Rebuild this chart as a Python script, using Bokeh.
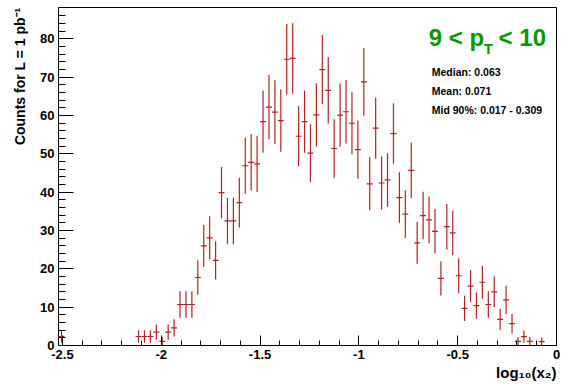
import math
import numpy as np
from bokeh.plotting import figure
from bokeh.models import Range1d, FixedTicker, Label, Title, ColumnDataSource, CustomJSTickFormatter
from bokeh.embed import file_html
from bokeh.resources import INLINE

# ---- data ----
bin_width = 0.03
centers = [-2.505,
           -2.115, -2.085, -2.055, -2.025, -1.995, -1.965, -1.935, -1.905, -1.875, -1.845,
           -1.815, -1.785, -1.755, -1.725, -1.695, -1.665, -1.635, -1.605, -1.575, -1.545,
           -1.515, -1.485, -1.455, -1.425, -1.395, -1.365, -1.335, -1.305, -1.275, -1.245,
           -1.215, -1.185, -1.155, -1.125, -1.095, -1.065, -1.035, -1.005, -0.975, -0.945,
           -0.915, -0.885, -0.855, -0.825, -0.795, -0.765, -0.735, -0.705, -0.675, -0.645,
           -0.615, -0.585, -0.555, -0.525, -0.495, -0.465, -0.435, -0.405, -0.375, -0.345,
           -0.315, -0.285, -0.255, -0.225, -0.195, -0.165, -0.135, -0.075]
counts = [2.3,
          2.35, 2.35, 2.35, 3.5, 1.1, 3.5, 4.6, 10.7, 10.7, 10.7,
          17.75, 26.0, 28.1, 22.2, 39.9, 32.5, 32.5, 37.3, 46.9, 47.8,
          47.4, 58.4, 62.2, 60.9, 58.7, 74.7, 74.9, 54.6, 58.4, 50.2,
          60.2, 72.0, 66.6, 51.4, 60.1, 61.0, 58.0, 51.1, 68.8, 42.2,
          56.7, 42.4, 43.2, 55.3, 38.6, 34.3, 45.7, 26.8, 33.9, 32.8,
          29.8, 17.5, 31.0, 29.4, 18.2, 9.7, 15.5, 10.4, 16.5, 10.7,
          14.0, 6.8, 11.9, 5.7, 1.1, 2.3, 1.1, 1.0]
errors = [1.61,
          1.63, 1.63, 1.63, 1.99, 1.12, 1.99, 2.28, 3.48, 3.48, 3.48,
          4.48, 5.42, 5.63, 5.01, 6.71, 6.06, 6.06, 6.49, 7.28, 7.35,
          7.32, 8.12, 8.38, 8.29, 8.14, 9.19, 9.20, 7.85, 8.12, 7.53,
          8.25, 9.02, 8.68, 7.62, 8.24, 8.30, 8.10, 7.60, 8.82, 6.91,
          8.00, 6.92, 6.99, 7.90, 6.60, 6.23, 7.19, 5.50, 6.19, 6.09,
          5.80, 4.45, 5.92, 5.76, 4.54, 3.31, 4.18, 3.43, 4.32, 3.48,
          3.98, 2.77, 3.67, 2.54, 1.12, 1.61, 1.12, 1.06]

x_ticks = [-2.5, -2.0, -1.5, -1.0, -0.5, 0.0]
x_tick_labels = ["-2.5", "-2", "-1.5", "-1", "-0.5", "0"]
y_ticks = [0, 10, 20, 30, 40, 50, 60, 70, 80]

title_parts = ["9 < p", "T", "< 10"]
stats_lines = ["Median: 0.063", "Mean: 0.071", "Mid 90%: 0.017 - 0.309"]
y_title = "Counts for L = 1 pb\u207b\u00b9"
x_title = "log\u2081\u2080(x\u2082)"

# ---- layout ----
W, H = 567, 384
FL, FR, FT, FB = 57, 556, 7, 345
XMIN, XMAX = -2.52, 0.0
YMIN, YMAX = 0.0, 88.2
RED = "#b22222"
GREEN = "#009900"
FONT = "Liberation Sans"


def dx(px):
    return XMIN + (px - FL) * (XMAX - XMIN) / (FR - FL)


def dy(py):
    return YMIN + (FB - py) * (YMAX - YMIN) / (FB - FT)


p = figure(width=W, height=H, output_backend="svg", toolbar_location=None,
           x_range=Range1d(XMIN, XMAX), y_range=Range1d(YMIN, YMAX),
           min_border_left=FL, min_border_right=W - FR, min_border_top=FT,
           min_border_bottom=H - FB)
p.grid.visible = False
p.background_fill_color = "white"
p.border_fill_color = "white"
p.outline_line_color = "black"
p.outline_line_width = 1

hw = bin_width / 2.0
src = ColumnDataSource(dict(
    x=centers, y=counts,
    lo=[c - e for c, e in zip(counts, errors)],
    hi=[c + e for c, e in zip(counts, errors)],
    xl=[c - hw for c in centers], xr=[c + hw for c in centers]))
p.segment(x0="x", y0="lo", x1="x", y1="hi", source=src, line_color=RED, line_width=1.2)
p.segment(x0="xl", y0="y", x1="xr", y1="y", source=src, line_color=RED, line_width=1.2)

# axes
xa = p.xaxis[0]
xa.ticker = FixedTicker(ticks=x_ticks, minor_ticks=[round(-2.5 + 0.1 * i, 2) for i in range(26)])
xa.formatter = CustomJSTickFormatter(args=dict(tv=x_ticks, tl=x_tick_labels),
                                     code="for (let i = 0; i < tv.length; i++) { if (Math.abs(tv[i] - tick) < 1e-9) return tl[i]; } return String(tick);")
xa.major_tick_in = 10
xa.major_tick_out = 0
xa.minor_tick_in = 5
xa.minor_tick_out = 0
xa.major_label_standoff = 4

ya = p.yaxis[0]
ya.ticker = FixedTicker(ticks=y_ticks, minor_ticks=list(range(0, 88, 2)))
ya.major_tick_in = 15
ya.major_tick_out = 0
ya.minor_tick_in = 7
ya.minor_tick_out = 0
ya.major_label_standoff = 4

for ax in (xa, ya):
    ax.axis_line_color = None
    ax.major_tick_line_color = "black"
    ax.minor_tick_line_color = "black"
    ax.major_label_text_font = FONT
    ax.major_label_text_font_style = "bold"
    ax.major_label_text_font_size = "13px"
    ax.major_label_text_color = "black"

# axis titles as side-panel titles (aligned at the axis end, like ROOT)
p.add_layout(Title(text=x_title, align="right", text_font=FONT, text_font_style="bold",
                   text_font_size="15px", text_color="black", standoff=0), "below")
p.add_layout(Title(text=y_title, align="right", text_font=FONT, text_font_style="bold",
                   text_font_size="14px", text_color="black", standoff=19), "left")


def add_label(text, px, py, size, color="black", angle=0.0):
    p.add_layout(Label(x=dx(px), y=dy(py), text=text, text_font=FONT,
                       text_font_style="bold", text_font_size=size,
                       text_color=color, text_align="left",
                       text_baseline="alphabetic", angle=angle))


# title 9 < pT < 10
add_label(title_parts[0], 428, 36.5, "24px", GREEN)
add_label(title_parts[1], 483, 47.5, "15px", GREEN)
add_label(title_parts[2], 498, 36.5, "24px", GREEN)

# stats
for line, base in zip(stats_lines, [71, 90.5, 109.5]):
    add_label(line, 431, base, "10.5px")

open("out.html", "w").write(file_html(p, INLINE))
